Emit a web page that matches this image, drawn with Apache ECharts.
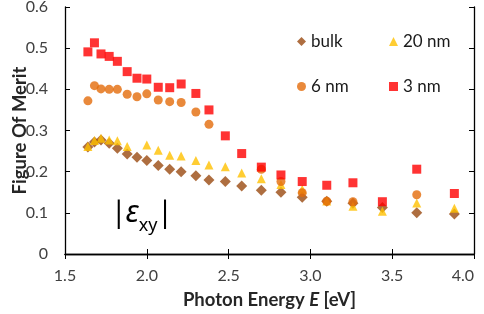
<!DOCTYPE html>
<html><head><meta charset="utf-8">
<script src="https://cdn.jsdelivr.net/npm/echarts@6/dist/echarts.min.js"></script>
<style>html,body{margin:0;padding:0;background:#fff}#c{width:484px;height:314px}</style>
</head><body><div id="c"></div>
<script>
var energy = [1.64,1.68,1.72,1.77,1.82,1.88,1.94,2.00,2.07,2.14,2.21,2.30,2.38,2.48,2.58,2.70,2.82,2.95,3.10,3.26,3.44,3.65,3.88];
var bulk  = [0.260,0.272,0.277,0.269,0.257,0.243,0.235,0.227,0.215,0.206,0.200,0.190,0.180,0.176,0.165,0.155,0.150,0.138,0.128,0.123,0.113,0.100,0.097];
var nm20  = [0.261,0.276,0.281,0.277,0.275,0.261,null,0.265,0.252,0.240,0.238,0.227,0.216,0.212,0.197,0.183,0.169,0.157,0.129,0.116,0.104,0.124,0.111];
var nm6   = [0.372,0.409,0.401,0.400,0.400,0.388,0.382,0.389,0.374,0.370,0.368,0.345,0.315,null,null,0.206,0.176,0.149,0.128,0.127,null,0.144,null];
var nm3   = [0.491,0.513,0.486,0.480,0.468,0.443,0.427,0.425,0.405,0.404,0.413,0.390,0.350,0.287,0.244,0.211,0.192,0.176,0.167,0.173,0.127,0.206,0.147];
var seriesNames = ['bulk','20 nm','6 nm','3 nm'];
var xTicks = [1.5,2.0,2.5,3.0,3.5,4.0];
var yTicks = [0,0.1,0.2,0.3,0.4,0.5,0.6];

function pairs(v){ var out=[]; energy.forEach(function(e,i){ if(v[i]!==null) out.push([e,v[i]]); }); return out; }
var FONT = 'Lato';
var chart = echarts.init(document.getElementById('c'));
var tickCommon = {show:true, inside:true, length:5, lineStyle:{color:'#000',width:1}};
var lineCommon = {show:true, lineStyle:{color:'#000',width:1.3}};
function legendAt(name, left, top, icon){
  return {data:[{name:name, icon:icon}], left:left, top:top, itemWidth:9, itemHeight:9, itemGap:5,
    textStyle:{fontFamily:FONT, fontSize:17, color:'#1a1a1a'}, padding:0};
}
var xMax = xTicks[xTicks.length-1];
chart.setOption({
  animation:false,
  grid:{left:65, top:7, right:10, bottom:60, outerBoundsMode:'none', containLabel:false},
  legend:[
    legendAt(seriesNames[0], 297, 33, 'diamond'),
    legendAt(seriesNames[1], 389, 33, 'triangle'),
    legendAt(seriesNames[2], 297, 78, 'circle'),
    legendAt(seriesNames[3], 389, 78, 'rect')
  ],
  xAxis:[{
    type:'value', min:xTicks[0], max:xMax, interval:0.5,
    axisLine:lineCommon, axisTick:tickCommon, splitLine:{show:false},
    axisLabel:{fontFamily:FONT, fontSize:16, color:'#404040', margin:14, showMaxLabel:true, alignMaxLabel:'right',
      formatter:function(v){ return v.toFixed(1); }},
    name:'{a|Photon Energy }{b|E}{a| [eV]}', nameLocation:'middle', nameGap:37, nameMoveOverlap:false,
    nameTextStyle:{rich:{a:{fontFamily:FONT, fontSize:18.5, fontWeight:'bold', color:'#262626'},
                         b:{fontFamily:FONT, fontSize:18.5, fontWeight:'bold', fontStyle:'italic', color:'#262626'}}}
  },{
    type:'value', position:'top', min:xTicks[0], max:xMax, interval:0.5,
    axisLine:lineCommon, axisTick:tickCommon, axisLabel:{show:false}, splitLine:{show:false}
  }],
  yAxis:[{
    type:'value', min:yTicks[0], max:yTicks[yTicks.length-1], interval:0.1,
    axisLine:lineCommon, axisTick:tickCommon, splitLine:{show:false},
    axisLabel:{fontFamily:FONT, fontSize:16, color:'#404040', margin:17, formatter:function(v){return v===0?'0':v.toFixed(1);}},
    name:'Figure Of Merit', nameLocation:'middle', nameGap:35, nameMoveOverlap:false,
    nameTextStyle:{fontFamily:FONT, fontSize:18.5, fontWeight:'bold', color:'#262626'}
  },{
    type:'value', position:'right', min:yTicks[0], max:yTicks[yTicks.length-1], interval:0.1,
    axisLine:lineCommon, axisTick:tickCommon, axisLabel:{show:false}, splitLine:{show:false}
  }],
  graphic:[{
    type:'text', left:115, top:198,
    style:{text:'{bar||}{e|ε}{s|xy}{bar||}', rich:{
      bar:{fontFamily:'Lato', fontSize:30, fill:'#000', verticalAlign:'bottom', padding:[0,3,0,3]},
      e:{fontFamily:'Noto Sans', fontSize:31, fontStyle:'italic', fill:'#000', verticalAlign:'bottom'},
      s:{fontFamily:'Noto Sans', fontSize:18, fill:'#000', padding:[0,1,-6,0], verticalAlign:'bottom'}
    }}
  }],
  series:[
    {name:seriesNames[0], type:'scatter', symbol:'diamond', symbolSize:11, itemStyle:{color:'#9A4A10'}, data:pairs(bulk), z:2},
    {name:seriesNames[1], type:'scatter', symbol:'triangle', symbolSize:9, itemStyle:{color:'#FFC000'}, data:pairs(nm20), z:3},
    {name:seriesNames[2], type:'scatter', symbol:'circle', symbolSize:9, itemStyle:{color:'#E46C0A'}, data:pairs(nm6), z:4},
    {name:seriesNames[3], type:'scatter', symbol:'rect', symbolSize:9, itemStyle:{color:'#FF0000'}, data:pairs(nm3), z:5}
  ]
});
</script></body></html>
